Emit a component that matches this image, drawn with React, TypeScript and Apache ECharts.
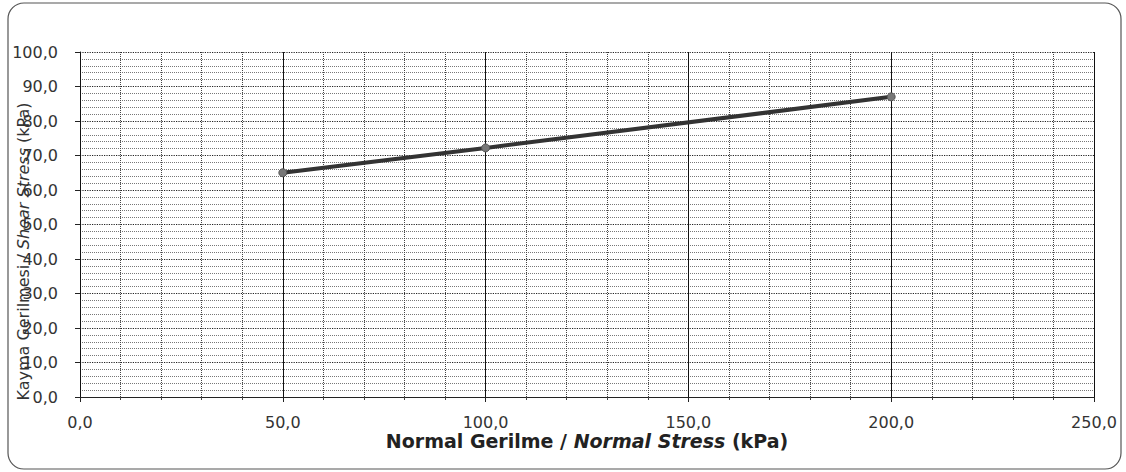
import React, { useEffect, useRef } from "react";
import * as echarts from "echarts";

const normalStress = [50, 100, 200];
const shearStress = [65.0, 72.2, 87.0];
const xTicks = [0, 50, 100, 150, 200, 250];
const yTicks = [0, 10, 20, 30, 40, 50, 60, 70, 80, 90, 100];

const fmt = (v: number) => v.toFixed(1).replace(".", ",");
const FONT = "'DejaVu Sans', sans-serif";

export default function App() {
  const ref = useRef<HTMLDivElement>(null);
  useEffect(() => {
    document.body.style.margin = "0";
    const chart = echarts.init(ref.current!, null, { renderer: "svg" });
    chart.setOption({
      animation: false,
      backgroundColor: "#ffffff",
      textStyle: { fontFamily: FONT },
      graphic: [
        {
          type: "rect",
          shape: { x: 8, y: 3, width: 1113, height: 466, r: 16 },
          style: { fill: "none", stroke: "#555", lineWidth: 1.2 },
          silent: true,
          z: 0,
        },
      ],
      grid: { left: 80, right: 32, top: 52, bottom: 75, containLabel: false, outerBoundsMode: "none" },
      xAxis: {
        type: "value",
        min: xTicks[0],
        max: xTicks[xTicks.length - 1],
        interval: 50,
        name: "{b|Normal Gerilme / }{bi|Normal Stress}{b| (kPa)}",
        nameLocation: "middle",
        nameGap: 34,
        nameMoveOverlap: false,
        nameTextStyle: {
          rich: {
            b: { fontFamily: FONT, fontWeight: "bold", fontSize: 19, color: "#222" },
            bi: { fontFamily: FONT, fontWeight: "bold", fontStyle: "italic", fontSize: 19, color: "#222" },
          },
        },
        axisLine: { show: true, lineStyle: { color: "#222", width: 1 } },
        axisTick: { show: true, length: 5, lineStyle: { color: "#222" } },
        minorTick: { show: true, splitNumber: 5, length: 3, lineStyle: { color: "#444" } },
        axisLabel: {
          margin: 17,
          fontSize: 16,
          color: "#333",
          fontFamily: FONT,
          formatter: (v: number) => fmt(v),
        },
        splitLine: { show: true, lineStyle: { color: "#111", width: 1, type: "solid" } },
        minorSplitLine: { show: true, lineStyle: { color: "#444", width: 1, type: "dotted" } },
      },
      yAxis: {
        type: "value",
        min: yTicks[0],
        max: yTicks[yTicks.length - 1],
        interval: 10,
        name: "{r|Kayma Gerilmesi / }{i|Shear Stress}{r| (kPa)}",
        nameLocation: "middle",
        nameGap: 49,
        nameRotate: 90,
        nameMoveOverlap: false,
        nameTextStyle: {
          padding: [0, 54, 0, 0],
          rich: {
            r: { fontFamily: FONT, fontSize: 16, color: "#333" },
            i: { fontFamily: FONT, fontStyle: "italic", fontSize: 16, color: "#333" },
          },
        },
        axisLine: { show: true, lineStyle: { color: "#111", width: 1 } },
        axisTick: { show: true, length: 5, lineStyle: { color: "#222" } },
        axisLabel: {
          margin: 22,
          fontSize: 16,
          color: "#333",
          fontFamily: FONT,
          formatter: (v: number) => fmt(v),
        },
        splitLine: { show: true, lineStyle: { color: "#222", width: 1.2, type: "dotted" } },
        minorTick: { show: false, splitNumber: 5 },
        minorSplitLine: { show: true, lineStyle: { color: "#777", width: 1, type: "dotted" } },
      },
      series: [
        {
          type: "line",
          data: normalStress.map((x, i) => [x, shearStress[i]]),
          lineStyle: { color: "#333", width: 4 },
          symbol: "circle",
          symbolSize: 8,
          itemStyle: { color: "#777", borderColor: "#555", borderWidth: 1 },
          z: 5,
        },
      ],
    });
    return () => chart.dispose();
  }, []);
  return <div ref={ref} style={{ width: 1126, height: 472 }} />;
}
